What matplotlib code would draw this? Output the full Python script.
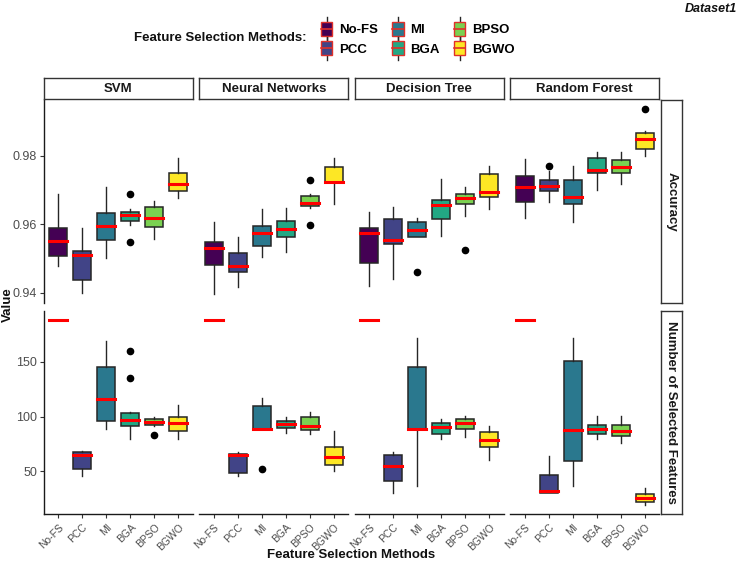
import matplotlib
matplotlib.use("Agg")
import matplotlib.pyplot as plt
from matplotlib.patches import Patch, Rectangle
from matplotlib.lines import Line2D
from matplotlib.legend_handler import HandlerBase

plt.rcParams["font.family"] = ["Liberation Sans", "DejaVu Sans"]

################################################################################
# Data (box statistics: low whisker, Q1, median, Q3, high)  #
################################################################################
methods = ["No-FS", "PCC", "MI", "BGA", "BPSO", "BGWO"]
models = ["SVM", "Neural Networks", "Decision Tree", "Random Forest"]
metrics = ["Accuracy", "Number of Selected Features"]
colors = ["#440154", "#414487", "#2A788E", "#22A884", "#7AD151", "#FDE725"]

svm_acc = [
    (0.9479, 0.9508, 0.9552, 0.9590, 0.9689),
    (0.9399, 0.9436, 0.9509, 0.9523, 0.9588),
    (0.9502, 0.9553, 0.9596, 0.9632, 0.9708),
    (0.9598, 0.9611, 0.9626, 0.9637, 0.9646),
    (0.9557, 0.9592, 0.9617, 0.9649, 0.9668),
    (0.9676, 0.9698, 0.9718, 0.9751, 0.9793),
]
svm_acc_out = [[], [], [], [0.9689, 0.9548], [], []]

nn_acc = [
    (0.9397, 0.9482, 0.9531, 0.9548, 0.9607),
    (0.9417, 0.9462, 0.9477, 0.9516, 0.9563),
    (0.9505, 0.9536, 0.9574, 0.9594, 0.9646),
    (0.9518, 0.9563, 0.9586, 0.9610, 0.9648),
    (0.9648, 0.9653, 0.9662, 0.9682, 0.9689),
    (0.9660, 0.9720, 0.9724, 0.9766, 0.9793),
]
nn_acc_out = [[], [], [], [], [0.9730, 0.9597], []]

dt_acc = [
    (0.9419, 0.9486, 0.9575, 0.9588, 0.9637),
    (0.9441, 0.9543, 0.9553, 0.9614, 0.9650),
    (0.9563, 0.9563, 0.9584, 0.9608, 0.9617),
    (0.9566, 0.9614, 0.9655, 0.9672, 0.9732),
    (0.9624, 0.9659, 0.9676, 0.9688, 0.9708),
    (0.9645, 0.9679, 0.9695, 0.9747, 0.9770),
]
dt_acc_out = [[], [], [0.9462], [], [0.9525], []]

rf_acc = [
    (0.9618, 0.9665, 0.9708, 0.9741, 0.9791),
    (0.9666, 0.9698, 0.9711, 0.9728, 0.9755),
    (0.9607, 0.9660, 0.9681, 0.9729, 0.9770),
    (0.9699, 0.9750, 0.9759, 0.9793, 0.9812),
    (0.9719, 0.9750, 0.9767, 0.9788, 0.9812),
    (0.9799, 0.9821, 0.9850, 0.9866, 0.9873),
]
rf_acc_out = [[], [0.9771], [], [], [], [0.9936]]

svm_feat = [
    (188, 188, 188, 188, 188),
    (46, 52, 65, 68, 69),
    (89, 96, 116, 145.5, 169),
    (80, 91, 96.5, 103, 104),
    (91, 92, 95, 97.5, 100),
    (80, 87, 94.5, 100, 111),
]
svm_feat_out = [[], [], [], [160, 135], [83], []]

nn_feat = [
    (188, 188, 188, 188, 188),
    (46, 48.5, 64.5, 66, 68),
    (89, 89, 89, 109.5, 117),
    (85, 90, 93, 96, 100),
    (84, 88, 91, 99.5, 104),
    (50, 56, 63.5, 72, 87),
]
nn_feat_out = [[], [], [52], [], [], []]

dt_feat = [
    (188, 188, 188, 188, 188),
    (30.5, 41, 55, 65, 67.5),
    (36.5, 88.5, 88.5, 145, 172),
    (80, 84, 90.5, 94, 98),
    (81, 89, 94, 98, 100.5),
    (60.5, 72, 78.5, 85.5, 91.5),
]
dt_feat_out = [[], [], [], [], [], []]

rf_feat = [
    (188, 188, 188, 188, 188),
    (30.5, 30.5, 32, 46.5, 64),
    (36.5, 59.5, 88, 150.5, 172),
    (80, 84, 89, 92, 100.5),
    (75.5, 82.5, 86.5, 92.5, 100.5),
    (19.5, 22, 26, 29.5, 35),
]
rf_feat_out = [[], [], [], [], [], []]

panels = [
    [(svm_acc, svm_acc_out), (nn_acc, nn_acc_out), (dt_acc, dt_acc_out), (rf_acc, rf_acc_out)],
    [(svm_feat, svm_feat_out), (nn_feat, nn_feat_out), (dt_feat, dt_feat_out), (rf_feat, rf_feat_out)],
]
yticks = [[0.94, 0.96, 0.98], [50, 100, 150]]
ytick_labels = [["0.94", "0.96", "0.98"], ["50", "100", "150"]]

################################################################################
# Layout (pixels of a 740x565 canvas)                                          #
################################################################################
W, H = 740, 565
fig = plt.figure(figsize=(W / 100, H / 100), dpi=100)

x0, pw, gap = 44, 148.9, 6.5
rows_y = [(100, 303), (311, 514)]
strip_top = (78, 99)
strip_right = (661, 682)


def px_axes(left, top, right, bottom):
    return fig.add_axes([left / W, 1 - bottom / H, (right - left) / W, (bottom - top) / H])


def strip(left, top, right, bottom, text, rotation=0):
    sa = px_axes(left, top, right, bottom)
    sa.set_xticks([])
    sa.set_yticks([])
    for s in sa.spines.values():
        s.set_color("#333333")
        s.set_linewidth(1.0)
    sa.text(0.5, 0.5, text, ha="center", va="center", rotation=rotation,
            fontsize=9.5, fontweight="bold", color="#1A1A1A", transform=sa.transAxes)


tick_col = "#4D4D4D"
axes = [[None] * 4 for _ in range(2)]
for r in range(2):
    top, bottom = rows_y[r]
    for c in range(4):
        left = x0 + c * (pw + gap)
        share = axes[r][0] if c > 0 else None
        ax = fig.add_axes([left / W, 1 - bottom / H, pw / W, (bottom - top) / H], sharey=share)
        axes[r][c] = ax
        stats_list, outs = panels[r][c]
        bstats = []
        for m, (lo, q1, med, q3, hi) in enumerate(stats_list):
            bstats.append(dict(whislo=lo, q1=q1, med=med, q3=q3, whishi=hi, fliers=outs[m]))
        bp = ax.bxp(
            bstats,
            positions=range(1, len(methods) + 1),
            widths=0.75,
            patch_artist=True,
            showcaps=False,
            boxprops=dict(edgecolor="#262626", linewidth=1.1),
            whiskerprops=dict(color="#262626", linewidth=1.0),
            medianprops=dict(color="#FF0000", linewidth=2.2, solid_capstyle="projecting"),
            flierprops=dict(marker="o", markerfacecolor="black", markeredgecolor="black", markersize=4.5),
        )
        for patch, col in zip(bp["boxes"], colors):
            patch.set_facecolor(col)
        # zero-height boxes: hide the outline so only the red median remains
        for patch, (lo, q1, med, q3, hi) in zip(bp["boxes"], stats_list):
            if q1 == q3:
                patch.set_edgecolor("none")

        ax.set_xlim(0.4, 6.6)
        for s in ["top", "right"]:
            ax.spines[s].set_visible(False)
        ax.spines["left"].set_visible(c == 0)
        ax.spines["bottom"].set_visible(r == 1)
        for s in ["left", "bottom"]:
            ax.spines[s].set_linewidth(1.0)
            ax.spines[s].set_color("#1A1A1A")

        if c == 0:
            ax.set_yticks(yticks[r])
            ax.set_yticklabels(ytick_labels[r])
            ax.tick_params(axis="y", length=3, width=0.8, color="#333333", labelsize=9, labelcolor=tick_col, pad=2)
        else:
            ax.tick_params(axis="y", left=False, labelleft=False)

        ax.set_xticks(range(1, len(methods) + 1))
        if r == 1:
            ax.set_xticklabels(methods, rotation=45, ha="right", rotation_mode="anchor")
            ax.tick_params(axis="x", length=3, width=0.8, color="#333333", labelsize=7.5, labelcolor=tick_col, pad=3)
        else:
            ax.tick_params(axis="x", bottom=False, labelbottom=False)

    # free y-scale per row with ggplot-style 5% expansion
    lows = [min([s[0] for s in panels[r][c][0]] + [v for o in panels[r][c][1] for v in o]) for c in range(4)]
    highs = [max([s[4] for s in panels[r][c][0]] + [v for o in panels[r][c][1] for v in o]) for c in range(4)]
    lo, hi = min(lows), max(highs)
    pad = (hi - lo) * 0.05
    axes[r][0].set_ylim(lo - pad, hi + pad)

# strips
for c in range(4):
    left = x0 + c * (pw + gap)
    strip(left, strip_top[0], left + pw, strip_top[1], models[c])
for r in range(2):
    strip(strip_right[0], rows_y[r][0], strip_right[1], rows_y[r][1], metrics[r], rotation=-90)

# axis titles
fig.text((x0 + (x0 + 4 * pw + 3 * gap)) / 2 / W, 1 - 555 / H, "Feature Selection Methods",
         ha="center", va="center", fontsize=9.5, fontweight="bold", color="#111111")
fig.text(8 / W, 1 - 305 / H, "Value", ha="center", va="center", rotation=90,
         fontsize=9.5, fontweight="bold", color="#111111")
fig.text(737 / W, 1 - 9 / H, "Dataset1", ha="right", va="center",
         fontsize=9, fontweight="bold", fontstyle="italic", color="#111111")


################################################################################
# Legend with boxplot-shaped keys                                              #
################################################################################
class BoxKey(HandlerBase):
    def create_artists(self, legend, orig_handle, xdescent, ydescent, width, height, fontsize, trans):
        bw = width * 0.95
        bh = height * 1.25
        cx = -xdescent + width / 2
        cy = -ydescent + height / 2
        whisk = Line2D([cx, cx], [cy - bh * 0.85, cy + bh * 0.85], color="#262626", lw=1.0, transform=trans)
        box = Rectangle((cx - bw / 2, cy - bh / 2), bw, bh, facecolor=orig_handle.get_facecolor(),
                        edgecolor="#E0302A", lw=1.0, transform=trans)
        med = Line2D([cx - bw / 2, cx + bw / 2], [cy, cy], color="#E0302A", lw=1.2, transform=trans)
        return [whisk, box, med]


handles = [Patch(facecolor=col, label=m) for m, col in zip(methods, colors)]
fig.legend(
    handles=handles,
    loc="upper left",
    bbox_to_anchor=(311 / W, 1 - 14 / H),
    ncol=3,
    frameon=False,
    handler_map={Patch: BoxKey()},
    prop=dict(size=9.5, weight="bold"),
    handlelength=0.95,
    handleheight=0.9,
    handletextpad=0.5,
    columnspacing=1.0,
    labelspacing=0.5,
    borderpad=0.2,
)
fig.text(307 / W, 1 - 38 / H, "Feature Selection Methods:", ha="right", va="center",
         fontsize=9.5, fontweight="bold", color="#111111")

fig.savefig("out.png", dpi=100)
plt.close()
